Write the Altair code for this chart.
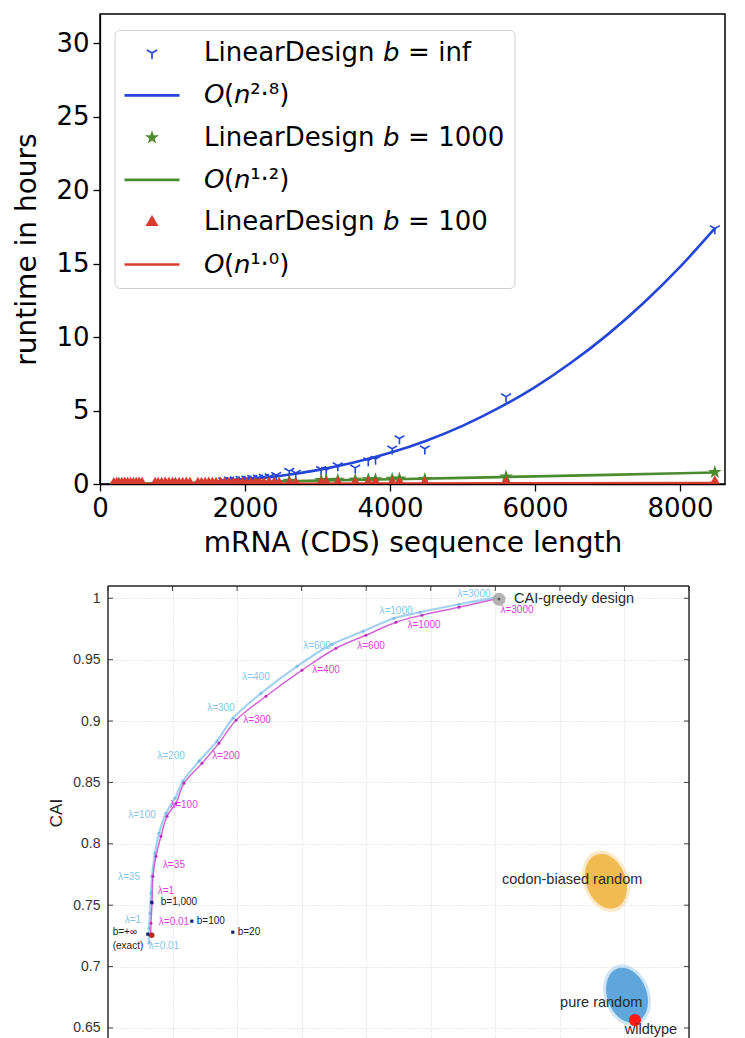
import math
import altair as alt
import pandas as pd

# ---------------- top panel data ----------------
series_names = ["LinearDesign 𝘣 = inf", "𝘖(𝘯²·⁸)", "LinearDesign 𝘣 = 1000",
                "𝘖(𝘯¹·²)", "LinearDesign 𝘣 = 100", "𝘖(𝘯¹·⁰)"]
series_colors = ["#2446d8", "#2446d8", "#4b8b2f", "#4b8b2f", "#d73b30", "#d73b30"]

blue_len = [1700, 1780, 1860, 1940, 2020, 2100, 2180, 2260, 2340, 2430, 2610, 2700,
            3050, 3120, 3280, 3520, 3700, 3800, 4030, 4130, 4480, 5600, 8480]
blue_hours = [0.25, 0.28, 0.3, 0.33, 0.36, 0.4, 0.43, 0.47, 0.5, 0.6, 0.88, 0.75,
              1.0, 0.95, 1.25, 1.1, 1.6, 1.7, 2.4, 3.1, 2.4, 5.95, 17.4]
green_len = [2610, 3050, 3120, 3280, 3520, 3700, 3800, 4030, 4130, 4480, 5600, 8480]
green_hours = [0.2, 0.25, 0.25, 0.27, 0.28, 0.3, 0.3, 0.34, 0.35, 0.32, 0.5, 0.8]
red_len = [190, 230, 260, 300, 340, 380, 420, 460, 500, 540, 580,
           760, 800, 850, 900, 950, 1000, 1040, 1090, 1140, 1190, 1240,
           1350, 1400, 1450, 1500, 1550, 1600, 1660, 1720, 1780, 1840,
           1900, 1960, 2020, 2080, 2140, 2200, 2260, 2330, 2400, 2470,
           2610, 2700, 3050, 3120, 3280, 3520, 3700, 3800, 4030, 4130, 4480, 5600, 8480]
red_hours = [0.08, 0.1, 0.09, 0.1, 0.11, 0.1, 0.09, 0.1, 0.1, 0.11, 0.1,
             0.1, 0.09, 0.1, 0.11, 0.1, 0.1, 0.09, 0.1, 0.1, 0.11,
             0.1, 0.1, 0.09, 0.1, 0.11, 0.1, 0.1, 0.1, 0.11, 0.1,
             0.1, 0.11, 0.1, 0.1, 0.1, 0.11, 0.1, 0.1, 0.11, 0.1, 0.1,
             0.12, 0.1, 0.12, 0.12, 0.13, 0.12, 0.13, 0.13, 0.14, 0.14, 0.13, 0.16, 0.2]

fit28_len = [1650, 2000, 2500, 3000, 3500, 4000, 4500, 5000, 5500, 6000, 6500, 7000, 7500, 8000, 8480]
fit28_hours = [0.185, 0.30, 0.565, 0.945, 1.46, 2.12, 2.95, 3.96, 5.18, 6.60, 8.27, 10.17, 12.34, 14.78, 17.4]
fit12_len = [200, 1000, 2000, 3000, 4000, 5000, 6000, 7000, 8480]
fit12_hours = [0.01, 0.06, 0.14, 0.23, 0.32, 0.42, 0.52, 0.62, 0.78]
fit10_len = [200, 8480]
fit10_hours = [0.002, 0.07]

x_ticks_top = [0, 2000, 4000, 6000, 8000]
y_ticks_top = [0, 5, 10, 15, 20, 25, 30]

# ---------------- bottom panel data ----------------
mag_u = [0.662, 0.666, 0.682, 0.697, 0.743, 0.821, 0.914, 1.053, 1.177, 1.456, 1.719,
         1.983, 2.447, 3.005, 3.532, 3.996, 4.461, 4.864, 5.437, 6.057]
mag_cai = [0.7256, 0.7353, 0.7516, 0.7736, 0.7899, 0.8062, 0.8225, 0.8331, 0.8493, 0.8656,
           0.8819, 0.9007, 0.9202, 0.9414, 0.9593, 0.9699, 0.9805, 0.9862, 0.9927, 1.0]
lb_u = [0.635, 0.636, 0.651, 0.666, 0.682, 0.728, 0.790, 0.898, 1.038, 1.162, 1.41,
        1.688, 1.936, 2.370, 2.928, 3.470, 3.950, 4.430, 4.833, 5.437, 6.010]
lb_cai = [0.7191, 0.7313, 0.7435, 0.7598, 0.7736, 0.7923, 0.8086, 0.8249, 0.8371, 0.8510,
          0.8673, 0.8836, 0.9023, 0.9226, 0.9446, 0.9625, 0.9731, 0.9837, 0.9886, 0.9951, 1.0008]

lam_text = ["λ=3000", "λ=1000", "λ=600", "λ=400", "λ=300", "λ=200", "λ=100", "λ=35", "λ=1", "λ=0.01"]
lb_lab_u = [5.669, 4.461, 3.237, 2.292, 1.750, 0.976, 0.527, 0.325, 0.387, 0.867]
lb_lab_cai = [1.0033, 0.9894, 0.9609, 0.9357, 0.9104, 0.8713, 0.8233, 0.7728, 0.7378, 0.7166]
mag_lab_u = [6.335, 4.895, 4.074, 3.377, 2.308, 1.828, 1.177, 1.022, 0.898, 1.022]
mag_lab_cai = [0.9902, 0.978, 0.9609, 0.9414, 0.9007, 0.8713, 0.8314, 0.7826, 0.7614, 0.7362]

b_pts_u = [0.678, 1.298, 1.933, 0.616]
b_pts_cai = [0.7524, 0.737, 0.728, 0.7264]
b_lab_text = ["b=1,000", "b=100", "b=20", "b=+∞", "(exact)"]
b_lab_u = [0.817, 1.375, 2.009, 0.073, 0.073]
b_lab_cai = [0.7524, 0.737, 0.728, 0.728, 0.7166]
exact_u = [0.678]
exact_cai = [0.7256]

greedy_u = [6.057]
greedy_cai = [0.9992]
wild_u = [8.163]
wild_cai = [0.6564]
cluster_names = ["codon-biased random", "pure random"]
cluster_u = [7.714, 8.04]
cluster_cai = [0.7695, 0.6767]

big_text = ["codon-biased random", "pure random", "wildtype"]
big_u = [7.19, 7.64, 8.41]
big_cai = [0.7704, 0.6702, 0.6485]
greedy_label = ["CAI-greedy design"]
greedy_lab_u = [6.29]
greedy_lab_cai = [0.9992]

cai_ticks = [0.65, 0.7, 0.75, 0.8, 0.85, 0.9, 0.95, 1.0]
u_ticks = [0, 1, 2, 3, 4, 5, 6, 7, 8, 9]

# ---------------- marker shapes (style) ----------------
def poly(pts):
    return "M" + "L".join(f"{x:.3f},{y:.3f}" for x, y in pts) + "Z"

def arm(dx, dy, L, w):
    nx, ny = -dy, dx
    return poly([(w * nx, w * ny), (L * dx + w * nx, L * dy + w * ny),
                 (L * dx - w * nx, L * dy - w * ny), (-w * nx, -w * ny)])

Y_SHAPE = arm(0, 1, 1.2, 0.17) + arm(-0.866, -0.5, 1.2, 0.17) + arm(0.866, -0.5, 1.2, 0.17)
STAR = poly([((1.45 if k % 2 == 0 else 0.56) * math.cos(-math.pi / 2 + k * math.pi / 5),
              (1.45 if k % 2 == 0 else 0.56) * math.sin(-math.pi / 2 + k * math.pi / 5))
             for k in range(10)])
TRI = poly([(0, -1.5), (1.3, 0.75), (-1.3, 0.75)])
LINE = poly([(-5.5, -0.27), (5.5, -0.27), (5.5, 0.27), (-5.5, 0.27)])
series_shapes = [Y_SHAPE, LINE, STAR, LINE, TRI, LINE]

def ellipse(a, n=36):
    return poly([(a * math.cos(2 * math.pi * k / n), math.sin(2 * math.pi * k / n)) for k in range(n)])

# ---------------- top panel ----------------
FONT = "DejaVu Sans"
x_top = alt.X("len:Q", scale=alt.Scale(domain=[0, 8620], nice=False, zero=False),
              axis=alt.Axis(values=x_ticks_top, format="d", title="mRNA (CDS) sequence length",
                            labelFont=FONT, labelFontSize=26, labelColor="black", labelFlush=False,
                            labelPadding=4, labelOverlap=False,
                            titleFont=FONT, titleFontSize=28, titleFontWeight="normal",
                            titleColor="black", titlePadding=8, tickSize=7, tickWidth=1.3,
                            tickColor="black", domainColor="black", domainWidth=1.3, grid=False))
y_top = alt.Y("hours:Q", scale=alt.Scale(domain=[0, 32], nice=False, zero=False),
              axis=alt.Axis(values=y_ticks_top, format="d", title="runtime in hours",
                            labelFont=FONT, labelFontSize=26, labelColor="black", labelPadding=4,
                            titleFont=FONT, titleFontSize=28, titleFontWeight="normal",
                            titleColor="black", titlePadding=14, tickSize=7, tickWidth=1.3,
                            tickColor="black", domainColor="black", domainWidth=1.3, grid=False))

legend = alt.Legend(orient="none", legendX=14.5, legendY=16, padding=10, symbolOffset=14.5,
                    labelOffset=39, rowPadding=16.3, labelFontSize=26, labelFont=FONT,
                    labelLimit=600, symbolSize=100, symbolStrokeWidth=0, fillColor="white",
                    strokeColor="#d0d0d0", cornerRadius=5, labelColor="black")
color_enc = alt.Color("series:N", title=None,
                      scale=alt.Scale(domain=series_names, range=series_colors), legend=legend)
shape_enc = alt.Shape("series:N", title=None,
                      scale=alt.Scale(domain=series_names, range=series_shapes), legend=legend)

def pts_layer(lens, hours, name, size):
    df = pd.DataFrame({"len": lens, "hours": hours, "series": name})
    return alt.Chart(df).mark_point(filled=True, size=size, opacity=1, clip=True).encode(
        x=x_top, y=y_top, color=color_enc, shape=shape_enc)

def line_layer(lens, hours, color):
    df = pd.DataFrame({"len": lens, "hours": hours})
    return alt.Chart(df).mark_line(strokeWidth=2.6, clip=True, interpolate="monotone").encode(
        x=x_top, y=y_top, color=alt.value(color))

top = alt.layer(
    line_layer(fit28_len, fit28_hours, "#2446d8"),
    pts_layer(blue_len, blue_hours, series_names[0], 90),
    line_layer(fit12_len, fit12_hours, "#4b8b2f"),
    pts_layer(green_len, green_hours, series_names[2], 100),
    line_layer(fit10_len, fit10_hours, "#d73b30"),
    pts_layer(red_len, red_hours, series_names[4], 60),
).properties(width=625, height=470,
             view=alt.ViewBackground(stroke="black", strokeWidth=1.5))

# ---------------- bottom panel ----------------
BF = "Liberation Sans"
x_bot = alt.X("u:Q", scale=alt.Scale(domain=[0, 9], range=[8, 589], nice=False, zero=False),
              axis=alt.Axis(values=u_ticks, labels=False, ticks=False, domain=False, grid=True,
                            gridDash=[1, 2], gridColor="#d4d4d4", title=None))
y_bot = alt.Y("cai:Q", scale=alt.Scale(domain=[0.641, 1.010], nice=False, zero=False),
              axis=alt.Axis(values=cai_ticks, format="~g", offset=-8, domain=False, ticks=False,
                            labelPadding=8, labelFont=BF, labelFontSize=14, labelColor="#333333",
                            grid=True, gridDash=[1, 2], gridColor="#d4d4d4", title="CAI",
                            titleFont=BF, titleFontSize=17, titleFontWeight="normal",
                            titleColor="#222222", titlePadding=7))

def df2(u, c, **extra):
    d = {"u": u, "cai": c}
    d.update(extra)
    return pd.DataFrame(d)

one = pd.DataFrame({"k": [0]})

lb_line = alt.Chart(df2(lb_u, lb_cai)).mark_line(
    strokeWidth=2.2, color="#93c9ee", opacity=0.85, interpolate="catmull-rom").encode(
    x=x_bot, y=y_bot, order=alt.Order("cai:Q"))
lb_pts = alt.Chart(df2(lb_u, lb_cai)).mark_circle(size=10, color="#7fbde8", opacity=1).encode(x=x_bot, y=y_bot)
mag_line = alt.Chart(df2(mag_u, mag_cai)).mark_line(
    strokeWidth=1.5, color="#c94bd0", opacity=0.85, interpolate="catmull-rom").encode(
    x=x_bot, y=y_bot, order=alt.Order("cai:Q"))
mag_pts = alt.Chart(df2(mag_u, mag_cai)).mark_circle(size=9, color="#b830b8", opacity=1).encode(x=x_bot, y=y_bot)

lb_labels = alt.Chart(df2(lb_lab_u, lb_lab_cai, t=lam_text)).mark_text(
    font=BF, fontSize=10, color="#86c5ea", align="center", baseline="middle").encode(x=x_bot, y=y_bot, text="t:N")
mag_labels = alt.Chart(df2(mag_lab_u, mag_lab_cai, t=lam_text)).mark_text(
    font=BF, fontSize=10, color="#e03ee0", align="center", baseline="middle").encode(x=x_bot, y=y_bot, text="t:N")

b_pts = alt.Chart(df2(b_pts_u, b_pts_cai)).mark_square(size=10, color="#1b1b70", opacity=1).encode(x=x_bot, y=y_bot)
exact_pt = alt.Chart(df2(exact_u, exact_cai)).mark_circle(size=30, color="#a8321c", opacity=1).encode(x=x_bot, y=y_bot)
b_labels = alt.Chart(df2(b_lab_u, b_lab_cai, t=b_lab_text)).mark_text(
    font=BF, fontSize=10, color="#222222", align="left", baseline="middle").encode(x=x_bot, y=y_bot, text="t:N")

cl_df = df2(cluster_u, cluster_cai, name=cluster_names)
cl_colors = alt.Scale(domain=cluster_names, range=["#f0bb50", "#5fa6dc"])
cl_colors2 = alt.Scale(domain=cluster_names, range=["#e3a019", "#1672b8"])
halo = alt.Chart(cl_df).mark_point(shape=ellipse(0.72), filled=True, size=4000, angle=340, opacity=0.3).encode(
    x=x_bot, y=y_bot, color=alt.Color("name:N", scale=cl_colors, legend=None))
core = alt.Chart(cl_df).mark_point(shape=ellipse(0.7), filled=True, size=3200, angle=340, opacity=1).encode(
    x=x_bot, y=y_bot, color=alt.Color("name:N", scale=cl_colors2, legend=None))

greedy = alt.Chart(df2(greedy_u, greedy_cai)).mark_circle(size=170, color="#ababab", opacity=0.9).encode(x=x_bot, y=y_bot)
greedy_dot = alt.Chart(df2(greedy_u, greedy_cai)).mark_circle(size=6, color="#555555", opacity=1).encode(x=x_bot, y=y_bot)
wild = alt.Chart(df2(wild_u, wild_cai)).mark_circle(size=150, color="#ff1a1a", opacity=1).encode(x=x_bot, y=y_bot)

big_labels = alt.Chart(df2(big_u, big_cai, t=big_text)).mark_text(
    font=BF, fontSize=14.5, color="#2a2a2a", align="center", baseline="middle").encode(x=x_bot, y=y_bot, text="t:N")
greedy_text = alt.Chart(df2(greedy_lab_u, greedy_lab_cai, t=greedy_label)).mark_text(
    font=BF, fontSize=14.5, color="#2a2a2a", align="left", baseline="middle").encode(x=x_bot, y=y_bot, text="t:N")

# frame and inward ticks
frame_l = alt.Chart(one).mark_rule(color="#222222", strokeWidth=1.4).encode(
    x=alt.value(8), y=alt.value(0), y2=alt.value(453))
frame_t = alt.Chart(one).mark_rule(color="#222222", strokeWidth=1.4).encode(
    x=alt.value(8), x2=alt.value(589), y=alt.value(0))
frame_r = alt.Chart(one).mark_rule(color="#222222", strokeWidth=1.4).encode(
    x=alt.value(589), y=alt.value(0), y2=alt.value(453))
tick_df_y = pd.DataFrame({"cai": cai_ticks})
tick_df_x = pd.DataFrame({"u": u_ticks})
ticks_l = alt.Chart(tick_df_y).mark_rule(color="#444444", strokeWidth=1).encode(
    y=y_bot, x=alt.value(8), x2=alt.value(13))
ticks_r = alt.Chart(tick_df_y).mark_rule(color="#444444", strokeWidth=1).encode(
    y=y_bot, x=alt.value(584), x2=alt.value(589))
ticks_t = alt.Chart(tick_df_x).mark_rule(color="#444444", strokeWidth=1).encode(
    x=x_bot, y=alt.value(0), y2=alt.value(5))

bottom = alt.layer(
    halo, core, wild, lb_line, lb_pts, mag_line, mag_pts, lb_labels, mag_labels,
    exact_pt, b_pts, b_labels, greedy, greedy_dot, big_labels, greedy_text,
    ticks_l, ticks_r, ticks_t, frame_l, frame_t, frame_r,
).properties(width=589, height=453)

chart = alt.vconcat(top, bottom, spacing=26).resolve_scale(color="independent", shape="independent").configure(
    padding={"left": 5, "top": 5, "right": 5, "bottom": 0}
).configure_view(stroke="transparent")

chart.save("out.html", embed_options={"renderer": "svg", "actions": False})
